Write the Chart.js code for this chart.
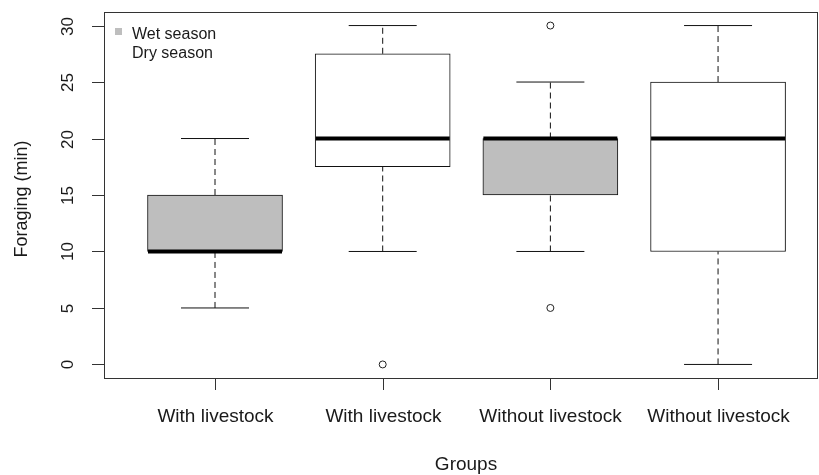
<!DOCTYPE html>
<html>
<head>
<meta charset="utf-8">
<script src="https://cdn.jsdelivr.net/npm/chart.js@4"></script>
<style>
  html, body { margin: 0; padding: 0; background: #fff; }
  #wrap { width: 819px; height: 475px; }
</style>
</head>
<body>
<div id="wrap"><canvas id="boxChart" width="819" height="475"></canvas></div>
<script>
// groups along the x axis (R boxplot order)
const groupLabels = ["With livestock", "With livestock", "Without livestock", "Without livestock"];
const seasons = ["wet", "dry", "wet", "dry"];
// five number summaries
const whiskerLow = [5, 10, 10, 0];
const boxLow = [10, 17.5, 15, 10];
const medians = [10, 20, 20, 20];
const boxHigh = [15, 27.5, 20, 25];
const whiskerHigh = [20, 30, 25, 30];
// outliers as [group, value]
const outliers = [[2, 0], [3, 30], [3, 5]];
const yTicks = [0, 5, 10, 15, 20, 25, 30];
const legendLabels = ["Wet season", "Dry season"];

document.addEventListener("DOMContentLoaded", function() {
    const ink = "#1a1a1a";
    const font = "'Liberation Sans', Arial, sans-serif";
    const gray = "#bebebe";

    const positions = groupLabels.map((_, i) => i + 1);

    // whisker segments, separated by gaps
    const whiskerPts = [];
    positions.forEach((x, i) => {
        whiskerPts.push({ x: x, y: whiskerLow[i] }, { x: x, y: boxLow[i] }, { x: x, y: null });
        whiskerPts.push({ x: x, y: boxHigh[i] }, { x: x, y: whiskerHigh[i] }, { x: x, y: null });
    });
    const capPts = [];
    positions.forEach((x, i) => {
        capPts.push({ x: x, y: whiskerLow[i] }, { x: x, y: whiskerHigh[i] });
    });

    // axes, labels and legend drawn with the chart's own scales
    const rPlot = {
        id: "rPlot",
        afterDraw(chart) {
            const ctx = chart.ctx;
            const area = chart.chartArea;
            const xs = chart.scales.x;
            const ys = chart.scales.y;
            ctx.save();
            ctx.strokeStyle = "#333";
            ctx.lineWidth = 1;
            ctx.strokeRect(area.left + 0.5, area.top + 0.5, area.right - area.left - 1, area.bottom - area.top);

            // y ticks
            ctx.fillStyle = ink;
            ctx.font = "17px " + font;
            ctx.textAlign = "center";
            ctx.textBaseline = "alphabetic";
            yTicks.forEach(v => {
                const y = Math.round(ys.getPixelForValue(v)) + 0.5;
                ctx.beginPath();
                ctx.moveTo(area.left - 12, y);
                ctx.lineTo(area.left, y);
                ctx.stroke();
                ctx.save();
                ctx.translate(73, y);
                ctx.rotate(-Math.PI / 2);
                ctx.fillText(String(v), 0, 0);
                ctx.restore();
            });

            // x ticks
            ctx.font = "19px " + font;
            positions.forEach((p, i) => {
                const x = Math.round(xs.getPixelForValue(p)) + 0.5;
                ctx.beginPath();
                ctx.moveTo(x, area.bottom);
                ctx.lineTo(x, area.bottom + 12);
                ctx.stroke();
                ctx.fillText(groupLabels[i], x, 422);
            });

            // axis titles
            ctx.fillText("Groups", (area.left + area.right) / 2 + 5, 470);
            ctx.save();
            ctx.font = "18px " + font;
            ctx.translate(27, 199);
            ctx.rotate(-Math.PI / 2);
            ctx.fillText("Foraging (min)", 0, 0);
            ctx.restore();

            // legend
            ctx.fillStyle = gray;
            ctx.fillRect(area.left + 11, 28, 7, 7);
            ctx.fillStyle = ink;
            ctx.font = "16px " + font;
            ctx.textAlign = "left";
            ctx.fillText(legendLabels[0], area.left + 28, 39);
            ctx.fillText(legendLabels[1], area.left + 28, 58);
            ctx.restore();
        }
    };

    new Chart(document.getElementById("boxChart"), {
        data: {
            datasets: [
                {
                    type: "scatter",
                    data: positions.map((x, i) => ({ x: x, y: medians[i] })),
                    pointStyle: "line",
                    pointRadius: 67,
                    borderWidth: 4,
                    borderColor: "#000",
                    order: 0
                },
                {
                    type: "scatter",
                    data: outliers.map(o => ({ x: o[0], y: o[1] })),
                    pointStyle: "circle",
                    pointRadius: 3.5,
                    borderWidth: 1,
                    borderColor: "#222",
                    backgroundColor: "#fff",
                    order: 1
                },
                {
                    type: "scatter",
                    data: capPts,
                    pointStyle: "line",
                    pointRadius: 34,
                    borderWidth: 1,
                    borderColor: "#111",
                    order: 2
                },
                {
                    type: "line",
                    data: whiskerPts,
                    borderColor: "#111",
                    borderWidth: 1,
                    borderDash: [6, 4],
                    pointRadius: 0,
                    spanGaps: false,
                    order: 3
                },
                {
                    type: "bar",
                    data: positions.map((x, i) => ({ x: x, y: [boxLow[i], boxHigh[i]] })),
                    backgroundColor: seasons.map(s => s === "wet" ? gray : "#fff"),
                    borderColor: "#111",
                    borderWidth: 1,
                    borderSkipped: false,
                    barThickness: 135,
                    order: 4
                }
            ]
        },
        options: {
            responsive: false,
            animation: false,
            events: [],
            layout: { autoPadding: false, padding: { left: 104, right: 1, top: 12, bottom: 97 } },
            scales: {
                x: { type: "linear", min: 0.338, max: 4.596, offset: false, display: false },
                y: { type: "linear", min: -1.2, max: 31.2, display: false }
            },
            plugins: {
                legend: { display: false },
                tooltip: { enabled: false }
            }
        },
        plugins: [rPlot]
    });
});
</script>
</body>
</html>
